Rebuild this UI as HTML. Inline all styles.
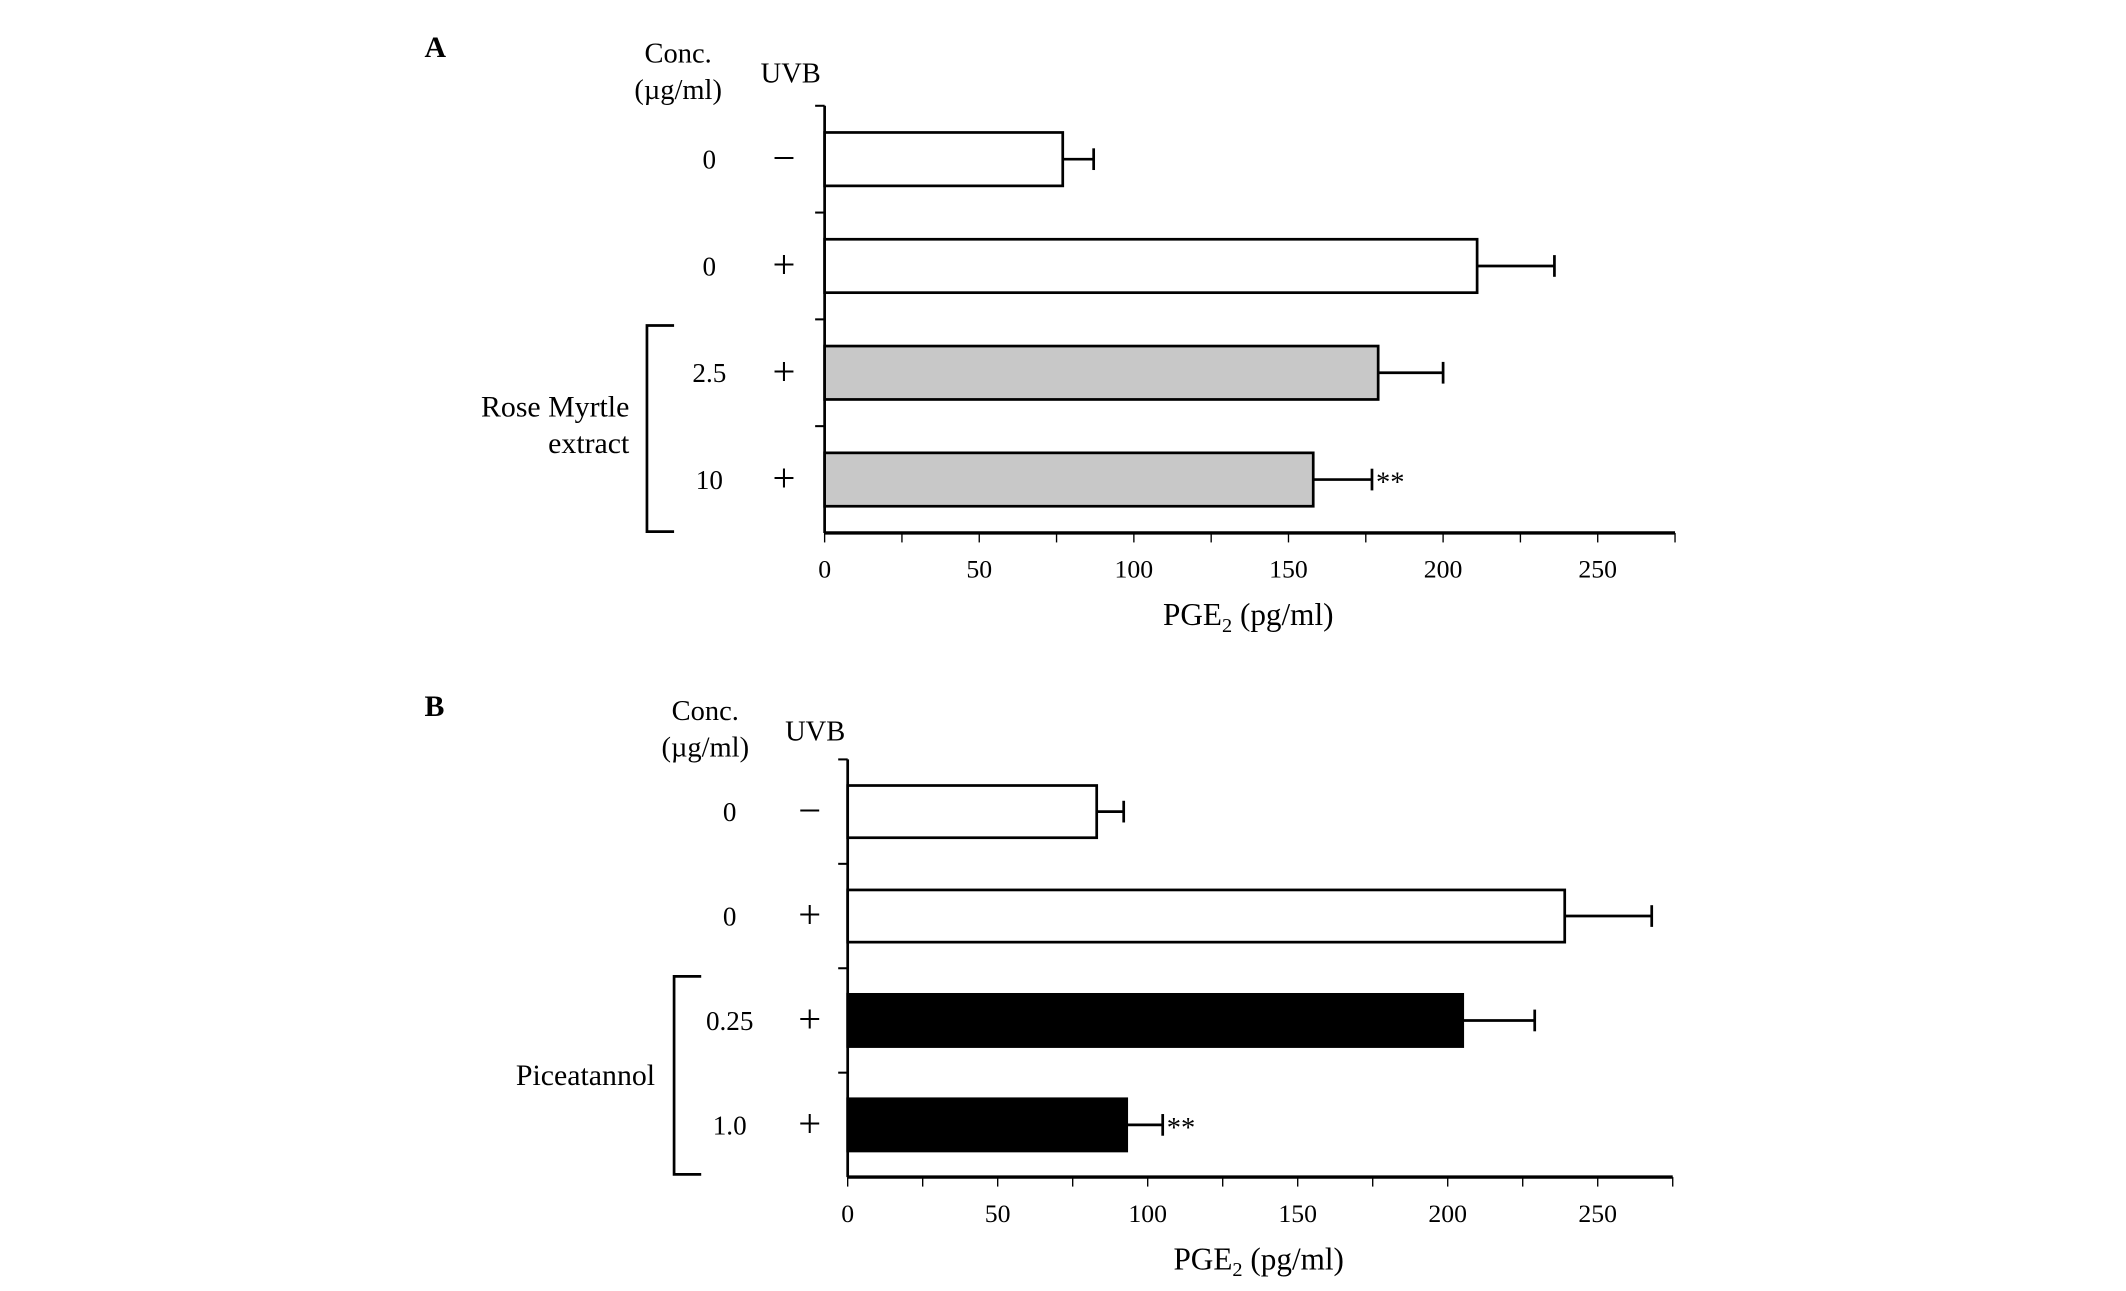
<!DOCTYPE html>
<html><head><meta charset="utf-8"><style>
html,body{margin:0;padding:0;background:#fff;}
svg{display:block;font-family:"Liberation Serif",serif;}
</style></head><body>
<svg id="c" width="2126" height="1291" viewBox="0 0 1567.5 952" preserveAspectRatio="none" xmlns="http://www.w3.org/2000/svg"></svg>
<script>
const concA = ["0","0","2.5","10"];
const uvbA = ["−","+","+","+"];
const valuesA = [77, 211, 179, 158];
const errorsA = [10, 25, 21, 19];
const sigA = ["","","","**"];
const concB = ["0","0","0.25","1.0"];
const uvbB = ["−","+","+","+"];
const valuesB = [83, 239, 205, 93];
const errorsB = [9, 29, 24, 12];
const sigB = ["","","","**"];
const xTicks = [0,50,100,150,200,250];

const NS="http://www.w3.org/2000/svg";
const svg=document.getElementById('c');
function el(tag,attrs,name,parent){const e=document.createElementNS(NS,tag);for(const k in attrs)e.setAttribute(k,attrs[k]);


(parent||svg).appendChild(e);return e;}
function txt(x,y,s,size,name,anchor,extra){const t=el('text',Object.assign({x:x,y:y,'font-size':size,'text-anchor':anchor||'middle'},extra||{}),name);t.textContent=s;return t;}

function panel(cfg){
  const {x0,yTop,yBot,unit,conc,uvb,vals,errs,sig,fill,concX,uvbX,letter,letterY,groupLabel,bracket}=cfg;
  const xs=v=>x0+v*unit;
  const rowH=(yBot-yTop)/4;
  txt(cfg.letterX,letterY,letter,22,'panel-label-'+letter.toLowerCase(),'start',{'font-weight':'bold'});
  txt(cfg.concHX,cfg.concHY,'Conc.',21,'conc-header');
  txt(cfg.concHX,cfg.concHY+27,'(µg/ml)',21,'conc-unit-header');
  txt(cfg.uvbHX,cfg.concHY+15,'UVB',21,'uvb-header');
  el('line',{x1:x0,y1:yTop,x2:x0,y2:yBot,stroke:'#000','stroke-width':2},'y-axis');
  el('line',{x1:x0,y1:yBot,x2:xs(275),y2:yBot,stroke:'#000','stroke-width':2.5},'x-axis');
  for(let i=0;i<4;i++){const y=yTop+rowH*i;el('line',{x1:x0-7,y1:y,x2:x0,y2:y,stroke:'#000','stroke-width':1.5},'y-tick');}
  for(let v=0;v<=275;v+=25){el('line',{x1:xs(v),y1:yBot,x2:xs(v),y2:yBot+7,stroke:'#000','stroke-width':1},'x-tick');}
  xTicks.forEach(v=>txt(xs(v),yBot+33,String(v),19,'x-tick-label'));
  const tl=txt(xs(137),yBot+68,'PGE',23,'x-axis-title');
  const ts=document.createElementNS(NS,'tspan');ts.setAttribute('font-size',15);ts.setAttribute('dy',5);ts.textContent='2';tl.appendChild(ts);
  const ts2=document.createElementNS(NS,'tspan');ts2.setAttribute('dy',-5);ts2.textContent=' (pg/ml)';tl.appendChild(ts2);
  for(let i=0;i<4;i++){
    const yc=yTop+rowH*(i+0.5);const bh=rowH*0.5;
    el('rect',{x:x0,y:yc-bh/2,width:xs(vals[i])-x0,height:bh,fill:fill[i],stroke:'#000','stroke-width':2},'bar-'+(i+1));
    el('line',{x1:xs(vals[i]),y1:yc,x2:xs(vals[i]+errs[i]),y2:yc,stroke:'#000','stroke-width':2},'error-bar');
    el('line',{x1:xs(vals[i]+errs[i]),y1:yc-8,x2:xs(vals[i]+errs[i]),y2:yc+8,stroke:'#000','stroke-width':2},'error-cap');
    if(sig[i])txt(xs(vals[i]+errs[i])+3,yc+9,sig[i],21,'significance-mark','start');
    txt(concX,yc+7,conc[i],20,'conc-label');
    txt(uvbX,yc+9,uvb[i],30,'uvb-label');
  }
  const [bx,by1,by2]=bracket;
  el('path',{d:`M${bx+20},${by1} H${bx} V${by2} H${bx+20}`,fill:'none',stroke:'#000','stroke-width':2},'group-bracket');
  groupLabel.forEach((s,j)=>txt(cfg.glX,cfg.glY+27*j,s,22,'group-label','end'));
}
panel({x0:608,yTop:78,yBot:393,unit:2.28,conc:concA,uvb:uvbA,vals:valuesA,errs:errorsA,sig:sigA,
  fill:['#fff','#fff','#c8c8c8','#c8c8c8'],concX:523,uvbX:578,letter:'A',letterX:313,letterY:42,
  concHX:500,concHY:46,uvbHX:583,groupLabel:['Rose Myrtle','extract'],glX:464,glY:307,bracket:[477,240,392]});
panel({x0:625,yTop:560,yBot:868,unit:2.212,conc:concB,uvb:uvbB,vals:valuesB,errs:errorsB,sig:sigB,
  fill:['#fff','#fff','#000','#000'],concX:538,uvbX:597,letter:'B',letterX:313,letterY:528,
  concHX:520,concHY:531,uvbHX:601,groupLabel:['Piceatannol'],glX:483,glY:800,bracket:[497,720,866]});
</script>
</body></html>
